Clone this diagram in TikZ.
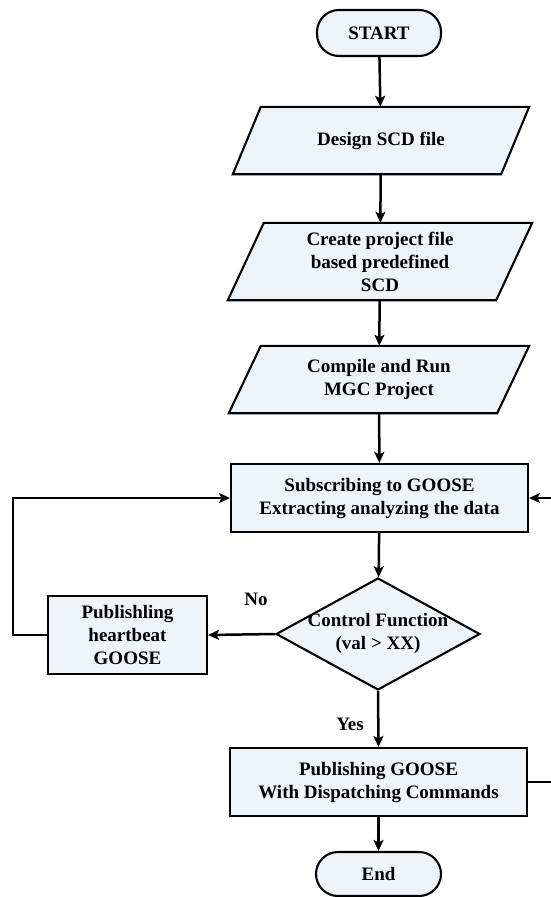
\documentclass[tikz,border=0pt]{standalone}
\usepackage{fontspec}
\setmainfont{Liberation Serif}
\usetikzlibrary{arrows.meta,shapes.geometric,backgrounds}
\definecolor{boxfill}{RGB}{237,245,251}
\begin{document}
\begin{tikzpicture}[x=1pt,y=-1pt,
  font=\fontsize{19}{23}\selectfont\bfseries,
  every node/.append style={align=center, inner sep=0pt},
  term/.style={draw, fill=boxfill, line width=2.1pt, rounded corners=22pt,
    minimum width=124pt, minimum height=46pt},
  iotext/.style={minimum width=268pt, minimum height=67pt},
  iobox/.style={draw, fill=boxfill, line width=2.1pt, line join=miter},
  proc/.style={draw, fill=boxfill, line width=2.1pt, minimum width=297pt, minimum height=68pt},
  decide/.style={draw, fill=boxfill, diamond, line width=2.1pt,
    minimum width=204pt, minimum height=112pt},
  flow/.style={line width=2.5pt, -{Stealth[length=11pt,width=10pt,inset=2.5pt]}},
  back/.style={line width=1.8pt, -{Stealth[length=11pt,width=10pt,inset=2.5pt]}}]

\useasboundingbox (0,0) rectangle (551,897);
\clip (0,0) rectangle (551,897);

% main column
\node[term] (start) at (379,33) {START};
\node[iotext] (design) at (381,140.5) {Design SCD file};
\node[iotext, minimum height=77pt] (create) at (380,261.5) {Create project file\\based predefined\\SCD};
\node[iotext] (compile) at (379,379.5) {Compile and Run\\MGC Project};
\node[proc] (sub) at (379.5,498) {Subscribing to GOOSE\\Extracting analyzing the data};
\node[decide] (ctrl) at (378,634) {};
\node (ctrltext) at (378,633) {Control Function\\(val > XX)};
\node[proc, minimum width=159pt, minimum height=78pt] (pubhb) at (127.5,635) {Publishling\\heartbeat\\GOOSE};
\node[proc] (pubcmd) at (378.5,782) {Publishing GOOSE\\With Dispatching Commands};
\node[term, minimum width=125pt, minimum height=44pt] (end) at (378.5,874) {End};

% input/output parallelograms
\begin{scope}[on background layer]
  \draw[iobox] ([xshift=-14pt]design.south west) -- ([xshift=14pt]design.north west)
    -- ([xshift=14pt]design.north east) -- ([xshift=-14pt]design.south east) -- cycle;
  \draw[iobox] ([xshift=-18pt]create.south west) -- ([xshift=18pt]create.north west)
    -- ([xshift=18pt]create.north east) -- ([xshift=-18pt]create.south east) -- cycle;
  \draw[iobox] ([xshift=-16pt]compile.south west) -- ([xshift=16pt]compile.north west)
    -- ([xshift=16pt]compile.north east) -- ([xshift=-16pt]compile.south east) -- cycle;
\end{scope}

% connectors
\draw[flow] (start) -- (design);
\draw[flow] (design) -- (create);
\draw[flow] (create) -- (compile);
\draw[flow] (compile) -- (sub);
\draw[flow] (sub) -- (ctrl);
\draw[flow] (ctrl.west) -- (pubhb.east);
\draw[flow] (ctrl.south) -- (pubcmd.north);
\draw[flow] (pubcmd) -- (end);
\draw[back] (pubhb.west) -- ++(-34pt,0) |- (sub.west);
\draw[back] (pubcmd.east) -- ++(40pt,0) |- (sub.east);

% branch labels
\node[fill=white, inner sep=3pt] (no) at (256,599) {No};
\node (yes) at (350,724) {Yes};
\end{tikzpicture}
\end{document}
